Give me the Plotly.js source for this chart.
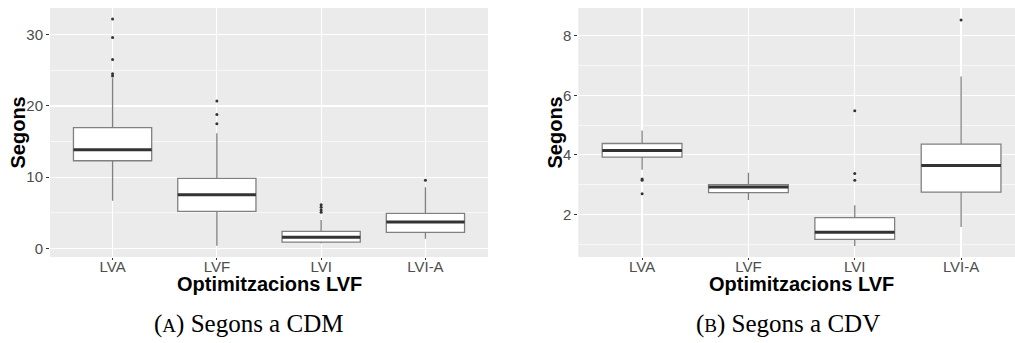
<!DOCTYPE html>
<html>
<head>
<meta charset="utf-8">
<script src="https://cdn.plot.ly/plotly-3.0.1.min.js"></script>
<style>
  html, body { margin: 0; padding: 0; background: #ffffff; }
  #chart { width: 1015px; height: 343px; }
</style>
</head>
<body>
<div id="chart"></div>
<script>
// ---- Data ----
const categories = ['LVA', 'LVF', 'LVI', 'LVI-A'];

// Panel A: Segons a CDM
const cdmQ1 = [12.3, 5.2, 0.88, 2.25];
const cdmMedian = [13.85, 7.53, 1.54, 3.69];
const cdmQ3 = [16.94, 9.83, 2.39, 4.92];
const cdmLower = [6.69, 0.37, 0.70, 1.35];
const cdmUpper = [23.9, 16.15, 3.97, 8.57];
const cdmOutliers = [[32.2, 29.6, 26.5, 24.5, 24.2], [20.7, 18.8, 17.5], [6.12, 5.76, 5.38, 5.06], [9.55]];

// Panel B: Segons a CDV
const cdvQ1 = [3.92, 2.73, 1.16, 2.75];
const cdvMedian = [4.145, 2.92, 1.40, 3.64];
const cdvQ3 = [4.38, 3.00, 1.89, 4.36];
const cdvLower = [3.50, 2.48, 0.94, 1.58];
const cdvUpper = [4.82, 3.40, 2.31, 6.63];
const cdvOutliers = [[3.19, 3.15, 2.69], [], [5.48, 3.37, 3.15], [8.53]];

const xTitle = 'Optimitzacions LVF';
const yTitle = 'Segons';
const captionA = ['A', 'Segons a CDM'];
const captionB = ['B', 'Segons a CDV'];

// ---- Styles ----
const W = 1015, H = 343;
const BOX_W = 0.75;
const idx = categories.map((_, i) => i);
const boxLine = '#808080';
const darkLine = '#333333';

function panelTraces(q1, med, q3, lo, hi, outs, xa, ya) {
  const box = {
    type: 'box', xaxis: xa, yaxis: ya,
    x: idx, q1: q1, median: med, q3: q3, lowerfence: lo, upperfence: hi,
    width: BOX_W, whiskerwidth: 0, boxpoints: false,
    fillcolor: '#ffffff', line: { color: boxLine, width: 1.3 },
    showlegend: false, hoverinfo: 'skip'
  };
  const mx = [], my = [];
  med.forEach((m, i) => { mx.push(i - BOX_W / 2, i + BOX_W / 2, null); my.push(m, m, null); });
  const medTrace = {
    type: 'scatter', mode: 'lines', xaxis: xa, yaxis: ya, x: mx, y: my,
    line: { color: darkLine, width: 3 }, showlegend: false, hoverinfo: 'skip'
  };
  const ox = [], oy = [];
  outs.forEach((arr, i) => arr.forEach(v => { ox.push(i); oy.push(v); }));
  const outTrace = {
    type: 'scatter', mode: 'markers', xaxis: xa, yaxis: ya, x: ox, y: oy,
    marker: { color: darkLine, size: 3 }, showlegend: false, hoverinfo: 'skip'
  };
  return [box, medTrace, outTrace];
}

const traces = [].concat(
  panelTraces(cdmQ1, cdmMedian, cdmQ3, cdmLower, cdmUpper, cdmOutliers, 'x', 'y'),
  panelTraces(cdvQ1, cdvMedian, cdvQ3, cdvLower, cdvUpper, cdvOutliers, 'x2', 'y2')
);

const tickFont = { family: 'Liberation Sans, Arial, sans-serif', size: 15, color: '#4D4D4D' };
const titleFont = { family: 'Liberation Sans, Arial, sans-serif', size: 20, color: '#000000', weight: 'bold' };
const capFont = { family: 'Liberation Serif, Times New Roman, serif', size: 25, color: '#000000' };

function xAxis(domain, range) {
  return {
    domain: domain, range: range, tickmode: 'array', tickvals: idx, ticktext: categories,
    showgrid: true, gridcolor: '#ffffff', gridwidth: 1.2, zeroline: false, showline: false,
    ticks: 'outside', ticklen: 2, tickcolor: darkLine, tickwidth: 1, tickfont: tickFont,
    ticklabelstandoff: -6, fixedrange: true
  };
}
function yAxis(domain, range, dtick, minorD, anchor) {
  return {
    domain: domain, range: range, anchor: anchor, tick0: 0, dtick: dtick,
    showgrid: true, gridcolor: '#ffffff', gridwidth: 1.2, zeroline: false, showline: false,
    ticks: 'outside', ticklen: 3, tickcolor: darkLine, tickwidth: 1, tickfont: tickFont,
    minor: { dtick: minorD, tick0: 0, showgrid: true, gridcolor: '#ffffff', gridwidth: 0.6, ticks: '' },
    fixedrange: true
  };
}

const yDom = [1 - 257 / H, 1 - 8 / H];
const layout = {
  width: W, height: H,
  margin: { l: 0, r: 0, t: 0, b: 0 },
  paper_bgcolor: '#ffffff', plot_bgcolor: '#EBEBEB',
  hovermode: false,
  xaxis: Object.assign(xAxis([50 / W, 488 / W], [-0.6, 3.6]), { anchor: 'y' }),
  yaxis: yAxis(yDom, [-1.22, 33.75], 10, 5, 'x'),
  xaxis2: Object.assign(xAxis([578.3 / W, 1], [-0.6, 3.507]), { anchor: 'y2' }),
  yaxis2: yAxis(yDom, [0.57, 8.93], 2, 1, 'x2'),
  annotations: [
    { xref: 'x', yref: 'paper', x: 1.5, y: 1 - 284 / H, text: xTitle, showarrow: false, font: titleFont, xanchor: 'center', yanchor: 'middle' },
    { xref: 'x2', yref: 'paper', x: 1.5, y: 1 - 284 / H, text: xTitle, showarrow: false, font: titleFont, xanchor: 'center', yanchor: 'middle' },
    { xref: 'paper', yref: 'paper', x: 18 / W, y: 1 - 132.5 / H, text: yTitle, textangle: -90, showarrow: false, font: titleFont, xanchor: 'center', yanchor: 'middle' },
    { xref: 'paper', yref: 'paper', x: 555 / W, y: 1 - 132.5 / H, text: yTitle, textangle: -90, showarrow: false, font: titleFont, xanchor: 'center', yanchor: 'middle' },
    { xref: 'paper', yref: 'paper', x: 248 / W, y: 1 - 324 / H, text: '(<span style="font-size:19px">' + captionA[0] + '</span>) ' + captionA[1], showarrow: false, font: capFont, xanchor: 'center', yanchor: 'middle' },
    { xref: 'paper', yref: 'paper', x: 788 / W, y: 1 - 324 / H, text: '(<span style="font-size:19px">' + captionB[0] + '</span>) ' + captionB[1], showarrow: false, font: capFont, xanchor: 'center', yanchor: 'middle' }
  ]
};

Plotly.newPlot('chart', traces, layout, { staticPlot: true, displayModeBar: false });
</script>
</body>
</html>
